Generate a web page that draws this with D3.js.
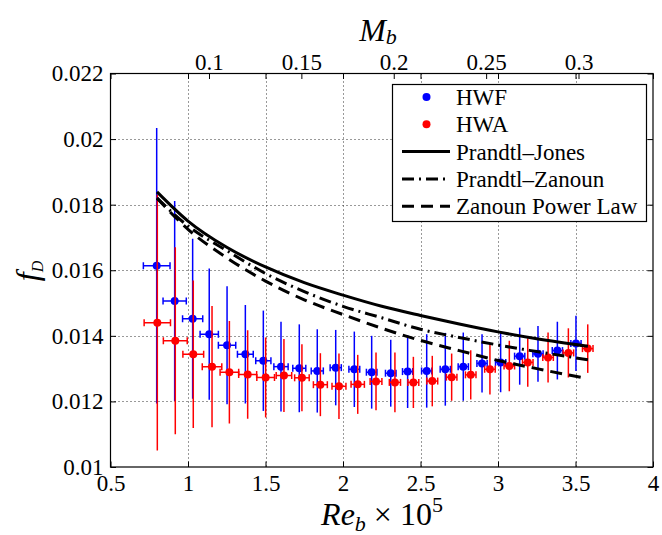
<!DOCTYPE html>
<html><head><meta charset="utf-8">
<script src="https://cdn.jsdelivr.net/npm/d3@7"></script>
<style>body{margin:0;background:#fff}svg{display:block}</style>
</head><body><svg id="c" width="662" height="535" font-family="Liberation Serif"></svg>
<script>
// ---- data ----
const hwfRe  = [0.798,0.914,1.030,1.137,1.252,1.370,1.486,1.600,1.718,1.834,1.953,2.073,2.185,2.308,2.417,2.540,2.660,2.776,2.897,3.017,3.140,3.258,3.383,3.503];
const hwfF   = [0.01614,0.01506,0.01452,0.01405,0.01371,0.01344,0.01324,0.01306,0.01301,0.01293,0.01303,0.01298,0.01289,0.01286,0.01291,0.01293,0.01298,0.01306,0.01316,0.01319,0.01338,0.01345,0.01355,0.01377];
const hwfErr = [0.0042,0.00305,0.00244,0.0020,0.0018,0.0015,0.00153,0.00137,0.00134,0.00127,0.00115,0.00115,0.00111,0.00102,0.00111,0.00112,0.00111,0.00104,0.00089,0.00091,0.00087,0.00085,0.00088,0.00084];
const hwfXErr= [0.086,0.075,0.065,0.059,0.056,0.051,0.049,0.046,0.042,0.039,0.036,0.035,0.034,0.034,0.033,0.033,0.033,0.033,0.033,0.033,0.033,0.033,0.033,0.033];

const hwaRe  = [0.802,0.918,1.034,1.155,1.267,1.385,1.501,1.619,1.735,1.854,1.974,2.095,2.213,2.335,2.454,2.576,2.701,2.824,2.948,3.073,3.192,3.323,3.454,3.579];
const hwaF   = [0.0144,0.01385,0.01344,0.01306,0.01289,0.01282,0.01273,0.01279,0.01272,0.01251,0.01246,0.01252,0.01261,0.01258,0.01258,0.01262,0.01274,0.01281,0.01298,0.01308,0.01319,0.01334,0.01348,0.01361];
const hwaErr = [0.0039,0.00285,0.00225,0.00185,0.00156,0.00135,0.00122,0.00111,0.00102,0.00096,0.0010,0.0009,0.00088,0.00091,0.00078,0.00077,0.00072,0.00075,0.00077,0.00077,0.00074,0.00076,0.00075,0.00074];
const hwaXErr= [0.085,0.077,0.067,0.063,0.060,0.058,0.057,0.050,0.047,0.045,0.045,0.043,0.038,0.036,0.035,0.035,0.034,0.034,0.034,0.034,0.034,0.034,0.034,0.034];

const pjRe = [0.8,1.0,1.25,1.5,1.75,2.0,2.25,2.5,2.75,3.0,3.25,3.58];
const pjF  = [0.01839,0.01750,0.01670,0.01610,0.01562,0.01524,0.01490,0.01462,0.01436,0.01412,0.01391,0.01368];
const pzRe = [0.8,1.0,1.25,1.5,1.75,2.0,2.25,2.5,2.75,3.0,3.25,3.58];
const pzF  = [0.0182,0.01735,0.0166,0.0159,0.01535,0.0149,0.01455,0.0142,0.01395,0.01372,0.01352,0.01327];
const zpRe = [0.8,1.0,1.25,1.5,1.75,2.0,2.25,2.5,2.75,3.0,3.25,3.55];
const zpF  = [0.0182,0.01725,0.01638,0.01567,0.01510,0.01465,0.01423,0.01386,0.01355,0.01325,0.01300,0.01272];

const xTicks = [0.5,1,1.5,2,2.5,3,3.5,4];
const yTicks = [0.01,0.012,0.014,0.016,0.018,0.02,0.022];
const mTicks = [0.1,0.15,0.2,0.25,0.3];
const legendLabels = ["HWF","HWA","Prandtl\u2013Jones","Prandtl\u2013Zanoun","Zanoun Power Law"];

// ---- layout ----
const FONT = "Liberation Serif";
const L=110.5, R=653, T=73.5, B=467;
const svg = d3.select("#c");
svg.append("rect").attr("width",662).attr("height",535).attr("fill","#fff");
const x = d3.scaleLinear().domain([0.5,4]).range([L,R]);
const y = d3.scaleLinear().domain([0.01,0.022]).range([B,T]);
const xm = d3.scaleLinear().domain([0.04669,0.34032]).range([L,R]);
const fmt = d3.format("~g");
const FS = 23;

// grid
const grid = svg.append("g").attr("stroke","#333").attr("stroke-width",1).attr("stroke-dasharray","1,3");
grid.selectAll("line.gx").data(xTicks.slice(1,-1)).join("line")
  .attr("x1",d=>Math.round(x(d))+0.5).attr("x2",d=>Math.round(x(d))+0.5).attr("y1",T).attr("y2",B);
grid.selectAll("line.gy").data(yTicks.slice(1,-1)).join("line")
  .attr("y1",d=>Math.round(y(d))+0.5).attr("y2",d=>Math.round(y(d))+0.5).attr("x1",L).attr("x2",R);

// axes
function styleAxis(g){
  g.attr("font-family",FONT).attr("font-size",FS);
  g.select(".domain").remove();
  g.selectAll(".tick line").attr("stroke","#000").attr("stroke-width",1);
  g.selectAll(".tick text").attr("font-size",FS).attr("font-family",FONT).attr("fill","#000");
}
svg.append("g").attr("transform",`translate(0,${B})`)
  .call(d3.axisBottom(x).tickValues(xTicks).tickFormat(fmt).tickSize(-5.5).tickPadding(8)).call(styleAxis);
svg.append("g").attr("transform",`translate(0,${T})`)
  .call(d3.axisTop(x).tickValues(xTicks).tickFormat("").tickSize(-5.5)).call(styleAxis);
svg.append("g").attr("transform",`translate(0,${T})`)
  .call(d3.axisTop(xm).tickValues(mTicks).tickFormat(fmt).tickSize(-5.5).tickPadding(4)).call(styleAxis);
svg.append("g").attr("transform",`translate(${L},0)`)
  .call(d3.axisLeft(y).tickValues(yTicks).tickFormat(fmt).tickSize(-5.5).tickPadding(7)).call(styleAxis);
svg.append("g").attr("transform",`translate(${R},0)`)
  .call(d3.axisRight(y).tickValues(yTicks).tickFormat("").tickSize(-5.5)).call(styleAxis);
svg.append("rect").attr("x",L).attr("y",T).attr("width",R-L).attr("height",B-T)
  .attr("fill","none").attr("stroke","#000").attr("stroke-width",1.2);

// clip
svg.append("clipPath").attr("id","clip").append("rect").attr("x",L).attr("y",T).attr("width",R-L).attr("height",B-T);
const plot = svg.append("g").attr("clip-path","url(#clip)");

function series(re,f,err,xerr,color){
  const g = plot.append("g").attr("stroke",color).attr("stroke-width",1.5);
  const d = re.map((r,i)=>({r,f:f[i],e:err[i],xe:xerr[i]}));
  g.selectAll("line.v").data(d).join("line")
    .attr("x1",p=>x(p.r)).attr("x2",p=>x(p.r)).attr("y1",p=>y(p.f+p.e)).attr("y2",p=>y(p.f-p.e));
  g.selectAll("line.h").data(d).join("line").attr("class","h")
    .attr("x1",p=>x(p.r-p.xe)).attr("x2",p=>x(p.r+p.xe)).attr("y1",p=>y(p.f)).attr("y2",p=>y(p.f));
  g.selectAll("line.c1").data(d).join("line").attr("class","c1")
    .attr("x1",p=>x(p.r-p.xe)).attr("x2",p=>x(p.r-p.xe)).attr("y1",p=>y(p.f)-3.5).attr("y2",p=>y(p.f)+3.5);
  g.selectAll("line.c2").data(d).join("line").attr("class","c2")
    .attr("x1",p=>x(p.r+p.xe)).attr("x2",p=>x(p.r+p.xe)).attr("y1",p=>y(p.f)-3.5).attr("y2",p=>y(p.f)+3.5);
  g.selectAll("circle").data(d).join("circle")
    .attr("cx",p=>x(p.r)).attr("cy",p=>y(p.f)).attr("r",4).attr("fill",color).attr("stroke","none");
}
series(hwfRe,hwfF,hwfErr,hwfXErr,"#0000ff");
series(hwaRe,hwaF,hwaErr,hwaXErr,"#ff0000");

const line = d3.line().x(d=>x(d[0])).y(d=>y(d[1])).curve(d3.curveMonotoneX);
function curve(re,f,dash){
  plot.append("path").datum(re.map((r,i)=>[r,f[i]])).attr("d",line)
    .attr("fill","none").attr("stroke","#000").attr("stroke-width",3).attr("stroke-dasharray",dash);
}
curve(pjRe,pjF,null);
curve(pzRe,pzF,"12,5,2,5");
curve(zpRe,zpF,"12,7");

// legend
const lg = svg.append("g").attr("font-family",FONT);
lg.append("rect").attr("x",392.5).attr("y",84.5).attr("width",254).attr("height",137)
  .attr("fill","#fff").attr("stroke","#000").attr("stroke-width",1.2);
const rowY = d3.range(5).map(i=>97+i*27.3);
const styles = [{c:"#0000ff"},{c:"#ff0000"},{d:null},{d:"12,5,2,5"},{d:"12,7"}];
legendLabels.forEach((t,i)=>{
  const yy = rowY[i];
  if(i<2){
    lg.append("circle").attr("cx",426.5).attr("cy",yy).attr("r",4).attr("fill",styles[i].c);
  } else {
    lg.append("line").attr("x1",402).attr("x2",450).attr("y1",yy).attr("y2",yy)
      .attr("stroke","#000").attr("stroke-width",3).attr("stroke-dasharray",styles[i].d);
  }
  lg.append("text").attr("x",456).attr("y",yy+8).attr("font-size",FS).attr("font-family",FONT).text(t);
});

// axis titles
const xl = svg.append("text").attr("x",382).attr("y",525).attr("text-anchor","middle").attr("font-size",32).attr("font-family",FONT);
xl.append("tspan").attr("font-style","italic").text("Re");
xl.append("tspan").attr("font-style","italic").attr("font-size",22).attr("dy",6).text("b");
xl.append("tspan").attr("dy",-6).text(" \u00d7 10");
xl.append("tspan").attr("font-size",22).attr("dy",-13).text("5");

const ml = svg.append("text").attr("x",378).attr("y",41).attr("text-anchor","middle").attr("font-size",32).attr("font-family",FONT);
ml.append("tspan").attr("font-style","italic").text("M");
ml.append("tspan").attr("font-style","italic").attr("font-size",22).attr("dy",3).text("b");

const fl = svg.append("text").attr("transform","translate(38,271) rotate(-90)").attr("text-anchor","middle").attr("font-size",32).attr("font-family",FONT);
fl.append("tspan").attr("font-style","italic").text("f");
fl.append("tspan").attr("font-style","italic").attr("font-size",16).attr("dy",5).text("D");
</script></body></html>
